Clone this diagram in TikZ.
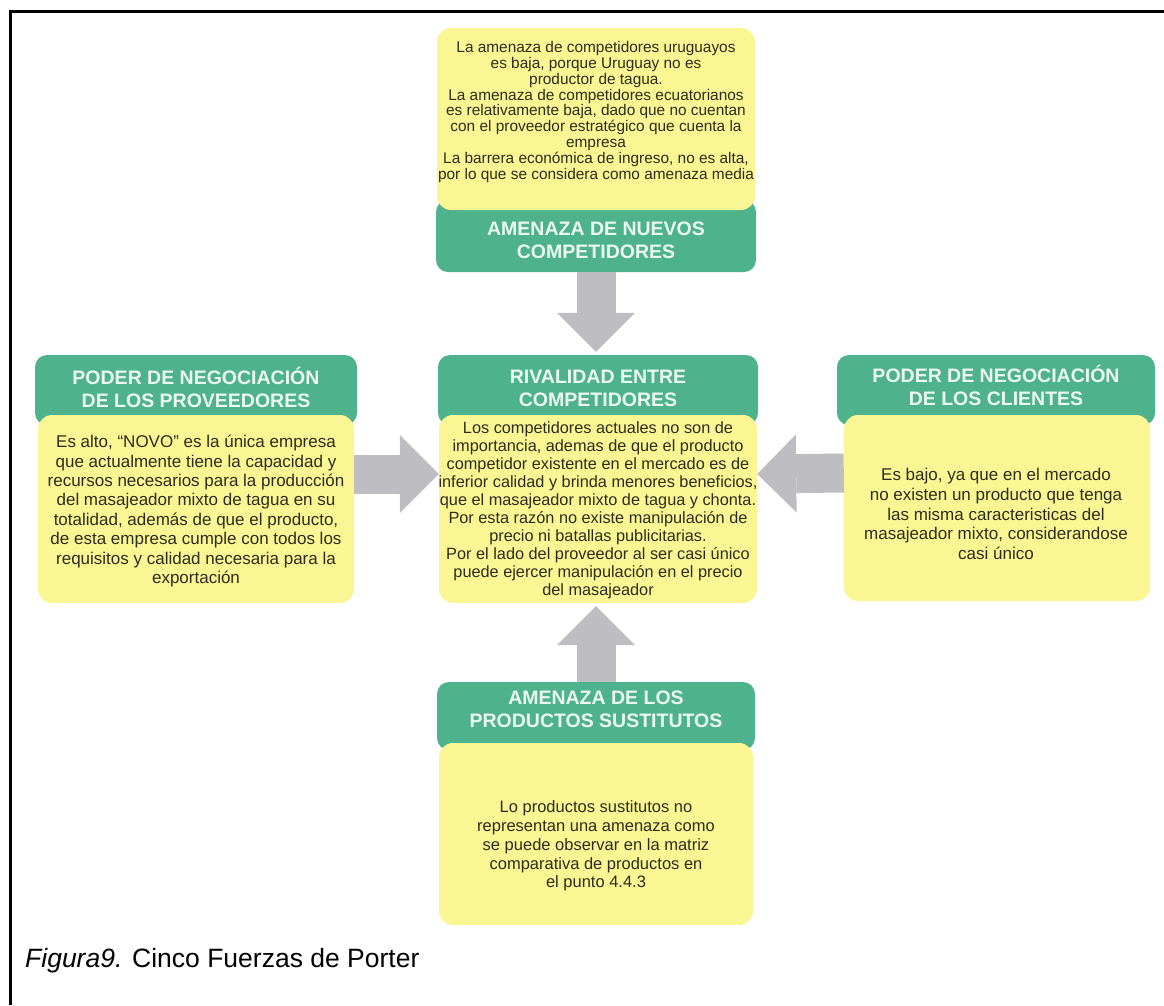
\documentclass[tikz,border=0pt]{standalone}
\usepackage{fontspec}
\setmainfont{Liberation Sans}
\usetikzlibrary{arrows.meta,calc}
\definecolor{hdrgreen}{RGB}{78,178,140}
\definecolor{bodyyellow}{RGB}{251,246,148}
\definecolor{arrowgray}{RGB}{190,189,194}
\definecolor{hdrtext}{RGB}{236,249,241}
\definecolor{bodytext}{RGB}{45,45,28}
\begin{document}
\begin{tikzpicture}[x=1pt,y=-1pt,
  hdr/.style={fill=hdrgreen, draw=none, rounded corners=12pt, inner sep=0pt},
  body/.style={fill=bodyyellow, draw=none, rounded corners=14pt, inner sep=0pt},
  htext/.style={text=hdrtext, font=\bfseries\fontsize{19.5}{23}\selectfont, align=center, inner sep=0pt},
  btext/.style={text=bodytext, align=center, inner sep=0pt},
  force/.style={draw=arrowgray, line width=39pt, -{Triangle[width=78pt,length=39pt,line width=0pt]}},
]
\useasboundingbox (0,0) rectangle (1164,1005);
\draw[line width=3pt] (10,1005) -- (10,11) -- (1164,11);

% top: threat of new entrants
\node[hdr, minimum width=320pt, minimum height=72pt] (topG) at (596,236) {};
\node[body, minimum width=318pt, minimum height=182pt] (topY) at (596,119) {};
\node[htext] (topH) at (596,240) {AMENAZA DE NUEVOS\\COMPETIDORES};
\node[btext, font=\fontsize{15.4}{15.8}\selectfont] (topT) at (596,112) {La amenaza de competidores uruguayos\\es baja, porque Uruguay no es\\productor de tagua.\\La amenaza de competidores ecuatorianos\\es relativamente baja, dado que no cuentan\\con el proveedor estratégico que cuenta la\\empresa\\La barrera económica de ingreso, no es alta,\\por lo que se considera como amenaza media};

% left: suppliers
\node[hdr, minimum width=322pt, minimum height=70pt] (leftG) at (196,390) {};
\node[body, minimum width=316pt, minimum height=188pt] (leftY) at (196,509) {};
\node[htext] (leftH) at (196,387) {PODER DE NEGOCIACIÓN\\DE LOS PROVEEDORES};
\node[btext, font=\fontsize{17}{19.4}\selectfont] (leftT) at (196,511) {Es alto, “NOVO” es la única empresa\\que actualmente tiene la capacidad y\\recursos necesarios para la producción\\del masajeador mixto de tagua en su\\totalidad, además de que el producto,\\de esta empresa cumple con todos los\\requisitos y calidad necesaria para la\\exportación};

% center: rivalry
\node[hdr, minimum width=320pt, minimum height=70pt] (cenG) at (598,390) {};
\node[body, minimum width=318pt, minimum height=188pt] (cenY) at (598,509) {};
\node[htext] (cenH) at (598,388) {RIVALIDAD ENTRE\\COMPETIDORES};
\node[btext, font=\fontsize{16.3}{18}\selectfont] (cenT) at (598,510) {Los competidores actuales no son de\\importancia, ademas de que el producto\\competidor existente en el mercado es de\\inferior calidad y brinda menores beneficios,\\que el masajeador mixto de tagua y chonta.\\Por esta razón no existe manipulación de\\precio ni batallas publicitarias.\\Por el lado del proveedor al ser casi único\\puede ejercer manipulación en el precio\\del masajeador};

% right: customers
\node[hdr, minimum width=318pt, minimum height=70pt] (rightG) at (996,390) {};
\node[body, minimum width=306pt, minimum height=186pt] (rightY) at (997,508) {};
\node[htext] (rightH) at (996,385) {PODER DE NEGOCIACIÓN\\DE LOS CLIENTES};
\node[btext, font=\fontsize{17}{19.7}\selectfont] (rightT) at (996,514) {Es bajo, ya que en el mercado\\no existen un producto que tenga\\las misma caracteristicas del\\masajeador mixto, considerandose\\casi único};

% bottom: substitutes
\node[hdr, minimum width=318pt, minimum height=68pt] (botG) at (596,716) {};
\node[body, minimum width=314pt, minimum height=182pt] (botY) at (596,834) {};
\node[htext] (botH) at (596,709) {AMENAZA DE LOS\\PRODUCTOS SUSTITUTOS};
\node[btext, font=\fontsize{16.5}{18.8}\selectfont] (botT) at (596,846) {Lo productos sustitutos no\\representan una amenaza como\\se puede observar en la matriz\\comparativa de productos en\\el punto 4.4.3};

% forces
\draw[force, shorten >=3pt] (topG.south) -- (topG.south |- cenG.north);
\draw[force] ([yshift=35pt]leftY.east) -- ([yshift=35pt]cenY.west);
\draw[force] ([yshift=35pt]rightY.west) -- ([yshift=35pt]cenY.east);
\draw[force, shorten >=3pt] (botG.north) -- (botG.north |- cenY.south);

% caption
\node[anchor=base west, inner sep=0pt, font=\fontsize{26.5}{30}\selectfont] (cap) at (25,967) {{\itshape Figura9.} Cinco Fuerzas de Porter};
\end{tikzpicture}
\end{document}
